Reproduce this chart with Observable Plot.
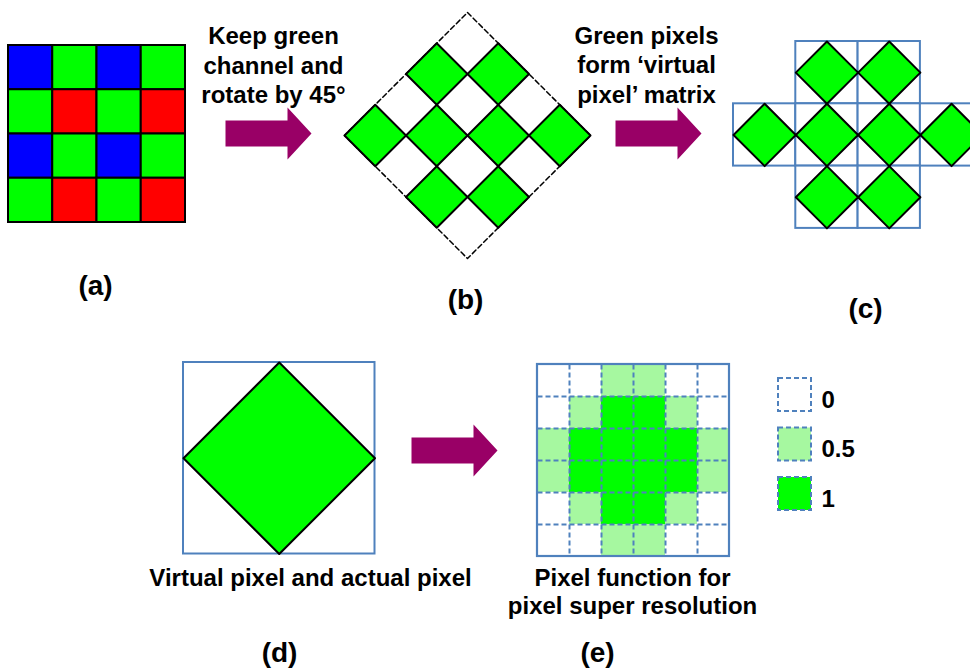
<!DOCTYPE html>
<html><head><meta charset="utf-8">
<script src="https://cdn.jsdelivr.net/npm/d3@7"></script>
<script src="https://cdn.jsdelivr.net/npm/@observablehq/plot@0.6"></script>
<style>body{margin:0;background:#fff;} #chart svg{display:block;}</style>
</head><body><div id="chart"></div>
<script>
// ---- data ----
const bayerPattern = [["B","G","B","G"],["G","R","G","R"],["B","G","B","G"],["G","R","G","R"]];
const bayerColors = {B: "#0000ff", G: "#00ff00", R: "#ff0000"};
const virtualRows = [[1, 2], [0, 1, 2, 3], [1, 2]];
const pixelFunction = [
  [0, 0, 0.5, 0.5, 0, 0],
  [0, 0.5, 1, 1, 0.5, 0],
  [0.5, 1, 1, 1, 1, 0.5],
  [0.5, 1, 1, 1, 1, 0.5],
  [0, 0.5, 1, 1, 0.5, 0],
  [0, 0, 0.5, 0.5, 0, 0]
];
const legendValues = [0, 0.5, 1];
const levelColors = {"0": "#ffffff", "0.5": "#a6f8a0", "1": "#00ff00"};
const panelLabels = ["(a)", "(b)", "(c)", "(d)", "(e)"];
const stepTexts = [["Keep green", "channel and", "rotate by 45°"], ["Green pixels", "form ‘virtual", "pixel’ matrix"]];
const captions = [["Virtual pixel and actual pixel"], ["Pixel function for", "pixel super resolution"]];

// ---- layout ----
const W = 970, H = 668;
const A = {x: 8, y: 45, s: 44.25};
const B = {cx: 467, cy: 135, h: 30.75};
const C = {x: 733, y: 41, s: 62.3};
const D = {x: 183, y: 362, s: 191.5};
const E = {x: 537, y: 364, s: 32};
const LG = {x: 778, y: 378, s: 33, dy: 49.5, tx: 821};
const arrowPos = [{x: 225, y: 133}, {x: 615, y: 133}, {x: 411, y: 450}];
const AR = {shaft: 62, head: 24, sh: 13, hh: 26};
const labelPos = [[95, 294], [465, 308], [865, 317], [279, 661], [597, 661]];
const stepPos = [{x: 273, y: [43, 73, 102]}, {x: 646, y: [43, 72.5, 102]}];
const captionPos = [{x: 310, y: [585]}, {x: 632, y: [585, 613]}];
const BLUE = "#4f81bd", ARROW = "#990066", FONT = "Liberation Sans, Arial, sans-serif";

function diamond(cx, cy, h, id) {
  return [[cx, cy - h], [cx + h, cy], [cx, cy + h], [cx - h, cy]].map(([x, y]) => ({x, y, id}));
}

// (a) Bayer cells
const bayerCells = bayerPattern.flatMap((row, r) => row.map((c, j) => ({
  x1: A.x + j * A.s, x2: A.x + (j + 1) * A.s, y1: A.y + r * A.s, y2: A.y + (r + 1) * A.s, fill: bayerColors[c]
})));

// (b) rotated green channel
const bOuter = diamond(B.cx, B.cy, 4 * B.h, "outer");
const bGreen = [];
bayerPattern.forEach((row, i) => row.forEach((c, j) => {
  if (c === "G") bGreen.push(...diamond(B.cx + (j - i) * B.h, B.cy + (i + j - 3) * B.h, B.h, `b${i}${j}`));
}));

// (c) virtual pixel matrix
const cCells = [], cGreen = [];
virtualRows.forEach((cols, r) => cols.forEach(c => {
  const x1 = C.x + c * C.s, y1 = C.y + r * C.s;
  cCells.push({x1, x2: x1 + C.s, y1, y2: y1 + C.s});
  cGreen.push(...diamond(x1 + C.s / 2, y1 + C.s / 2, C.s / 2, `c${r}${c}`));
}));

// (d)
const dCell = [{x1: D.x, x2: D.x + D.s, y1: D.y, y2: D.y + D.s}];
const dGreen = diamond(D.x + D.s / 2, D.y + D.s / 2, D.s / 2, "d");

// (e)
const n = pixelFunction.length;
const eCells = pixelFunction.flatMap((row, r) => row.map((v, c) => ({
  x1: E.x + c * E.s, x2: E.x + (c + 1) * E.s, y1: E.y + r * E.s, y2: E.y + (r + 1) * E.s, fill: levelColors[String(v)]
})));
const eLines = d3.range(1, n).flatMap(k => [
  {x1: E.x + k * E.s, x2: E.x + k * E.s, y1: E.y, y2: E.y + n * E.s},
  {x1: E.x, x2: E.x + n * E.s, y1: E.y + k * E.s, y2: E.y + k * E.s}
]);
const eBorder = [{x1: E.x, x2: E.x + n * E.s, y1: E.y, y2: E.y + n * E.s}];

// legend
const legendBoxes = legendValues.map((v, i) => ({
  x1: LG.x, x2: LG.x + LG.s, y1: LG.y + i * LG.dy, y2: LG.y + i * LG.dy + LG.s, fill: levelColors[String(v)],
  label: String(v), tx: LG.tx, ty: LG.y + i * LG.dy + LG.s - 4
}));

// arrows
const arrowPts = arrowPos.flatMap(({x, y}, k) => [
  [x, y - AR.sh], [x + AR.shaft, y - AR.sh], [x + AR.shaft, y - AR.hh], [x + AR.shaft + AR.head, y],
  [x + AR.shaft, y + AR.hh], [x + AR.shaft, y + AR.sh], [x, y + AR.sh]
].map(([px, py]) => ({x: px, y: py, id: k})));

// texts
const textRows = [
  ...stepTexts.flatMap((lines, k) => lines.map((t, i) => ({t, x: stepPos[k].x, y: stepPos[k].y[i], size: 24}))),
  ...captions.flatMap((lines, k) => lines.map((t, i) => ({t, x: captionPos[k].x, y: captionPos[k].y[i], size: 24}))),
  ...panelLabels.map((t, i) => ({t, x: labelPos[i][0], y: labelPos[i][1], size: 28}))
];

const chart = Plot.plot({
  width: W, height: H, margin: 0,
  x: {domain: [0, W], range: [0, W], axis: null},
  y: {domain: [0, H], range: [0, H], axis: null},
  style: {background: "white"},
  marks: [
    // (a)
    Plot.rect(bayerCells, {x1: "x1", x2: "x2", y1: "y1", y2: "y2", fill: d => d.fill, stroke: "#000", strokeWidth: 2}),
    // (b)
    Plot.line(bOuter, {x: "x", y: "y", z: "id", curve: "linear-closed", stroke: "#000", strokeWidth: 1.5, strokeDasharray: "5,3"}),
    Plot.line(bGreen, {x: "x", y: "y", z: "id", curve: "linear-closed", fill: "#00ff00", stroke: "#000", strokeWidth: 2}),
    // (c)
    Plot.rect(cCells, {x1: "x1", x2: "x2", y1: "y1", y2: "y2", fill: "white", stroke: BLUE, strokeWidth: 2}),
    Plot.line(cGreen, {x: "x", y: "y", z: "id", curve: "linear-closed", fill: "#00ff00", stroke: "#000", strokeWidth: 2}),
    // (d)
    Plot.rect(dCell, {x1: "x1", x2: "x2", y1: "y1", y2: "y2", fill: "white", stroke: BLUE, strokeWidth: 2}),
    Plot.line(dGreen, {x: "x", y: "y", z: "id", curve: "linear-closed", fill: "#00ff00", stroke: "#000", strokeWidth: 2}),
    // (e)
    Plot.rect(eCells, {x1: "x1", x2: "x2", y1: "y1", y2: "y2", fill: d => d.fill}),
    Plot.link(eLines, {x1: "x1", x2: "x2", y1: "y1", y2: "y2", stroke: BLUE, strokeWidth: 2, strokeDasharray: "5,3"}),
    Plot.rect(eBorder, {x1: "x1", x2: "x2", y1: "y1", y2: "y2", fill: "none", stroke: BLUE, strokeWidth: 2.2}),
    // legend
    Plot.rect(legendBoxes, {x1: "x1", x2: "x2", y1: "y1", y2: "y2", fill: d => d.fill, stroke: BLUE, strokeWidth: 2, strokeDasharray: "5,3"}),
    Plot.text(legendBoxes, {x: "tx", y: "ty", text: "label", textAnchor: "start", lineAnchor: "bottom", fontSize: 24, fontWeight: "bold", fontFamily: FONT, fill: "#000"}),
    // arrows
    Plot.line(arrowPts, {x: "x", y: "y", z: "id", curve: "linear-closed", fill: ARROW, stroke: "none"}),
    // texts
    Plot.text(textRows, {x: "x", y: "y", text: "t", fontSize: d => d.size, textAnchor: "middle", lineAnchor: "bottom", fontWeight: "bold", fontFamily: FONT, fill: "#000"})
  ]
});
document.getElementById("chart").appendChild(chart);
</script>
</body></html>
